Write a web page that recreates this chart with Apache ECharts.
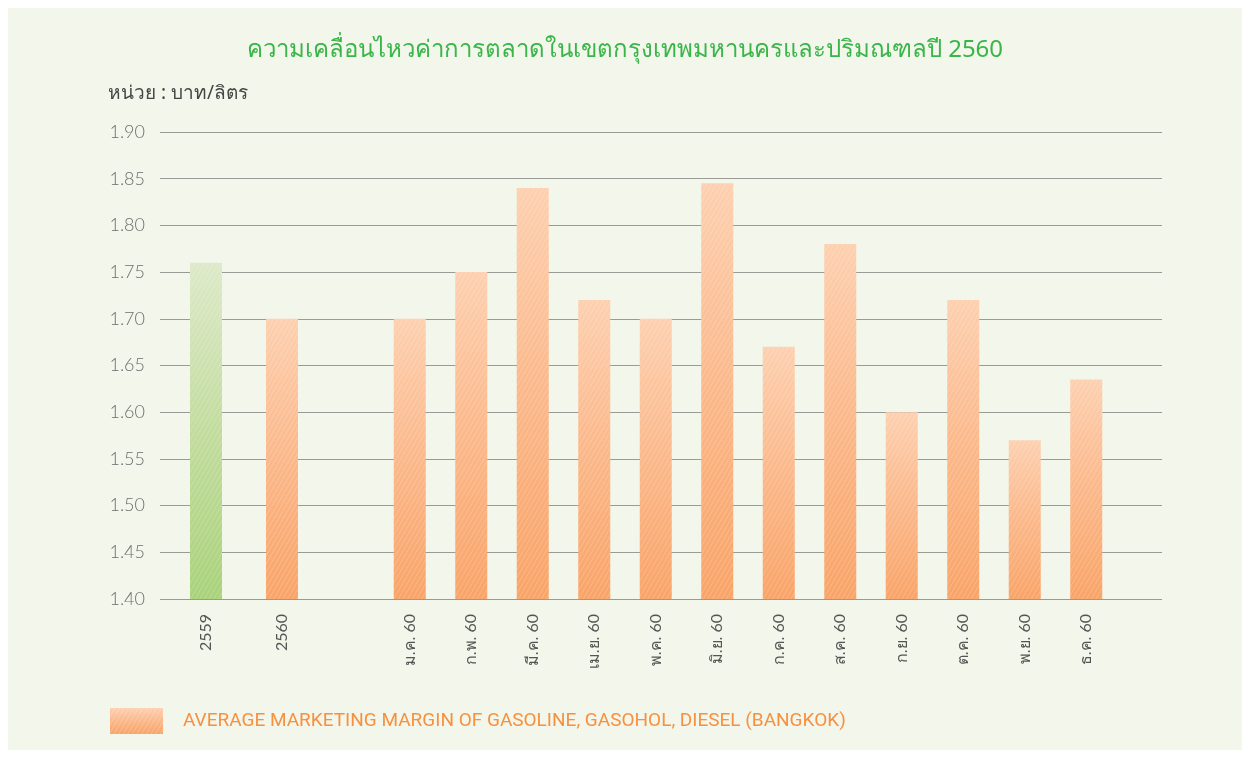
<!DOCTYPE html>
<html>
<head>
<meta charset="utf-8">
<script src="https://cdn.jsdelivr.net/npm/echarts@6/dist/echarts.min.js"></script>
<style>
  html, body { margin: 0; padding: 0; background: #ffffff; }
  #chart { width: 1250px; height: 758px; }
</style>
</head>
<body>
<div id="chart"></div>
<script>
// ---- data ----
const titleText = 'ความเคลื่อนไหวค่าการตลาดในเขตกรุงเทพมหานครและปริมณฑลปี 2560';
const unitText = 'หน่วย : บาท/ลิตร';
const seriesName = 'AVERAGE MARKETING MARGIN OF GASOLINE, GASOHOL, DIESEL (BANGKOK)';
const yearCategories = ['2559', '2560'];
const yearValues = [1.76, 1.70];
const monthCategories = ['ม.ค. 60', 'ก.พ. 60', 'มี.ค. 60', 'เม.ย. 60', 'พ.ค. 60', 'มิ.ย. 60',
                         'ก.ค. 60', 'ส.ค. 60', 'ก.ย. 60', 'ต.ค. 60', 'พ.ย. 60', 'ธ.ค. 60'];
const monthValues = [1.70, 1.75, 1.84, 1.72, 1.70, 1.845, 1.67, 1.78, 1.60, 1.72, 1.57, 1.635];
const yMin = 1.40, yMax = 1.90, yStep = 0.05;

// ---- styles ----
const orangeFill = new echarts.graphic.LinearGradient(0, 0, 0, 1, [
  { offset: 0, color: '#fdd0b0' },
  { offset: 0.5, color: '#fbb88a' },
  { offset: 1, color: '#f9a468' }
]);
const greenFill = new echarts.graphic.LinearGradient(0, 0, 0, 1, [
  { offset: 0, color: '#dde9c8' },
  { offset: 0.5, color: '#c2dc9e' },
  { offset: 1, color: '#a9d27a' }
]);
const decal = {
  symbol: 'rect',
  symbolSize: 1,
  dashArrayX: [[1, 0], [1, 0]],
  dashArrayY: [1, 3],
  rotation: -Math.PI / 3,
  color: 'rgba(255,255,255,0.18)'
};

const chart = echarts.init(document.getElementById('chart'), null, { renderer: 'canvas' });

const labelFont = 'Lato, "Noto Sans", sans-serif';

const option = {
  backgroundColor: '#ffffff',
  animation: false,
  graphic: [
    { type: 'rect', z: -10, silent: true, shape: { x: 8, y: 8, width: 1234, height: 742 },
      style: { fill: '#f3f6ea' } },
    { type: 'text', left: 'center', top: 38, style: { text: titleText, fill: '#3ab54a',
      font: '400 24px "Noto Sans", sans-serif' } },
    { type: 'text', left: 108, top: 84, style: { text: unitText, fill: '#454545',
      font: '400 19px "Noto Sans", sans-serif' } }
  ],
  legend: {
    left: 105, top: 703,
    itemWidth: 53, itemHeight: 26, itemGap: 10,
    icon: 'rect',
    data: [seriesName],
    textStyle: { color: '#f7913f', fontSize: 19, fontFamily: 'Roboto, sans-serif', padding: [0, 0, 0, 15] },
    selectedMode: false
  },
  grid: [
    { left: 160, right: 88, top: 132, bottom: 159 },
    { left: 168, width: 152, top: 132, bottom: 159 },
    { left: 379, width: 738, top: 132, bottom: 159 }
  ],
  xAxis: [
    { type: 'category', gridIndex: 0, data: [''], show: false },
    { type: 'category', gridIndex: 1, data: yearCategories,
      axisLine: { show: false }, axisTick: { show: false },
      axisLabel: { rotate: 90, color: '#555', fontSize: 16, margin: 15, fontFamily: labelFont } },
    { type: 'category', gridIndex: 2, data: monthCategories,
      axisLine: { show: false }, axisTick: { show: false },
      axisLabel: { rotate: 90, color: '#555', fontSize: 16, margin: 15, fontFamily: labelFont } }
  ],
  yAxis: [
    { type: 'value', gridIndex: 0, min: yMin, max: yMax, interval: yStep,
      axisLine: { show: false }, axisTick: { show: false },
      axisLabel: { color: '#6e6e6e', fontSize: 18, margin: 15, fontFamily: labelFont, fontWeight: 300,
        formatter: v => v.toFixed(2) },
      splitLine: { lineStyle: { color: '#9a9a96', width: 1.2 } } },
    { type: 'value', gridIndex: 1, min: yMin, max: yMax, show: false },
    { type: 'value', gridIndex: 2, min: yMin, max: yMax, show: false }
  ],
  series: [
    { name: seriesName, type: 'bar', xAxisIndex: 1, yAxisIndex: 1, barWidth: 32,
      itemStyle: { color: orangeFill, decal: decal },
      data: yearValues.map((v, i) => i === 0 ? { value: v, itemStyle: { color: greenFill } } : v) },
    { name: seriesName, type: 'bar', xAxisIndex: 2, yAxisIndex: 2, barWidth: 32,
      itemStyle: { color: orangeFill, decal: decal },
      data: monthValues }
  ]
};
chart.setOption(option);
</script>
</body>
</html>
